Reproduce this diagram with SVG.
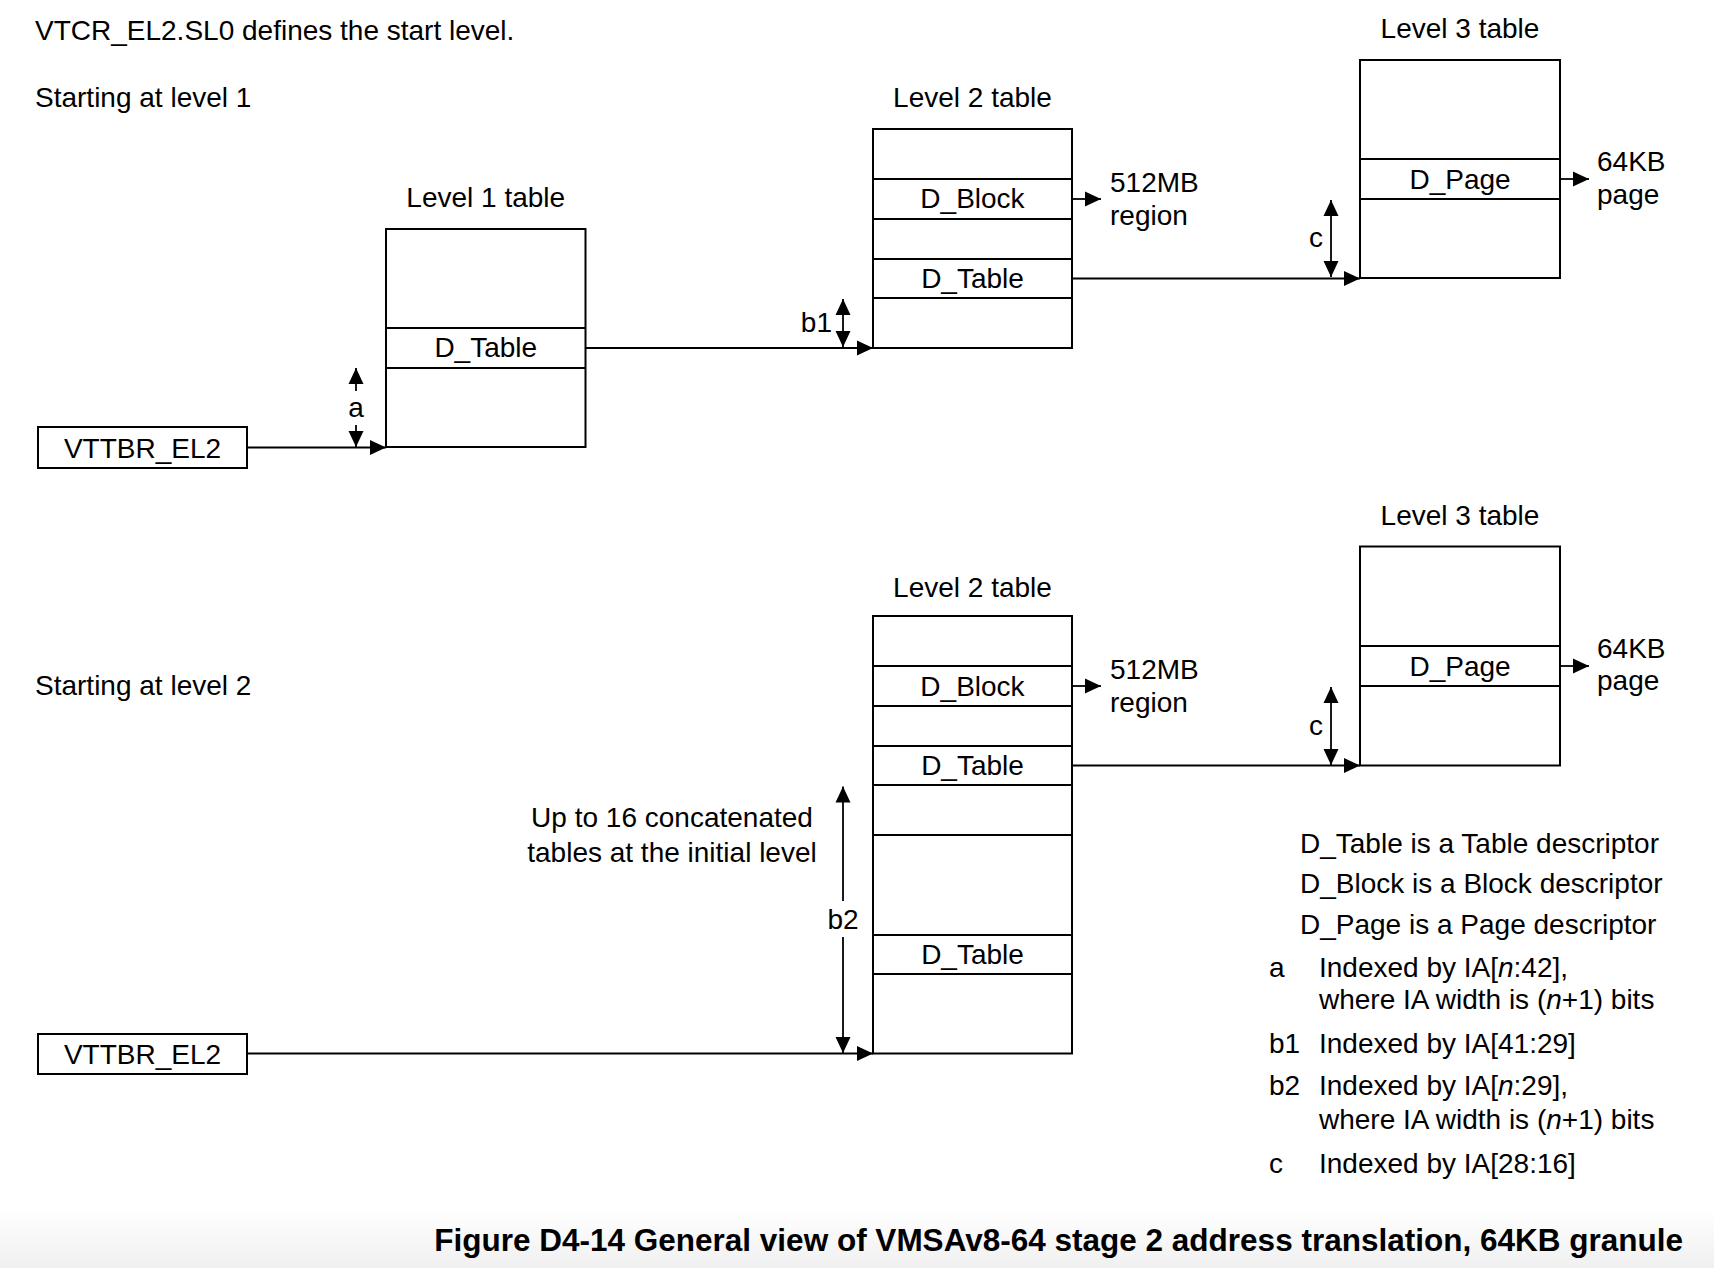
<svg xmlns="http://www.w3.org/2000/svg" width="1714" height="1268" viewBox="0 0 1714 1268">
<style>
text{font-family:"Liberation Sans",Arial,Helvetica,sans-serif;font-size:28px;fill:#000}
.mid{text-anchor:middle}
.end{text-anchor:end}
.tbl{fill:#fff;stroke:#000;stroke-width:2}
.sep{stroke:#000;stroke-width:2;fill:none}
.conn{stroke:#000;stroke-width:1.8;fill:none}
.ar{marker-end:url(#ah)}
.dbl{marker-start:url(#ah);marker-end:url(#ah)}
.cap{font-weight:bold;font-size:31.5px}
</style>
<defs>
<marker id="ah" markerUnits="userSpaceOnUse" markerWidth="16" markerHeight="16" viewBox="0 0 16 15" refX="16" refY="7.5" orient="auto-start-reverse">
<path d="M0,0 L16,7.5 L0,15 z" fill="#000"/>
</marker>
<linearGradient id="bg" x1="0" y1="0" x2="0" y2="1">
<stop offset="0" stop-color="#fff"/>
<stop offset="1" stop-color="#f0f0f0"/>
</linearGradient>
</defs>
<rect x="0" y="0" width="1714" height="1268" fill="#fff"/>
<rect x="0" y="1210" width="1714" height="58" fill="url(#bg)"/>

<g id="headings">
<text x="35" y="40">VTCR_EL2.SL0 defines the start level.</text>
<text x="35" y="107">Starting at level 1</text>
<text x="35" y="695">Starting at level 2</text>
</g>

<!-- Upper: starting at level 1 -->
<g id="vttbr1">
<rect class="tbl" x="38" y="427" width="209" height="41"/>
<text class="mid" x="142.5" y="457.5">VTTBR_EL2</text>
</g>
<g id="l1table">
<text class="mid" x="485.75" y="207">Level 1 table</text>
<rect class="tbl" x="386" y="229" width="199.5" height="218"/>
<line class="sep" x1="386" y1="328" x2="585.5" y2="328"/>
<line class="sep" x1="386" y1="368" x2="585.5" y2="368"/>
<text class="mid" x="485.75" y="357">D_Table</text>
</g>
<g id="l2table_a">
<text class="mid" x="972.5" y="107">Level 2 table</text>
<rect class="tbl" x="873" y="129" width="199" height="219"/>
<line class="sep" x1="873" y1="179" x2="1072" y2="179"/>
<line class="sep" x1="873" y1="219" x2="1072" y2="219"/>
<line class="sep" x1="873" y1="259" x2="1072" y2="259"/>
<line class="sep" x1="873" y1="298" x2="1072" y2="298"/>
<text class="mid" x="972.5" y="208">D_Block</text>
<text class="mid" x="972.5" y="287.5">D_Table</text>
</g>
<g id="region_a">
<text x="1110" y="192">512MB</text>
<text x="1110" y="225">region</text>
</g>
<g id="l3table_a">
<text class="mid" x="1460" y="38">Level 3 table</text>
<rect class="tbl" x="1360" y="60" width="200" height="218"/>
<line class="sep" x1="1360" y1="159" x2="1560" y2="159"/>
<line class="sep" x1="1360" y1="199" x2="1560" y2="199"/>
<text class="mid" x="1460" y="188.5">D_Page</text>
</g>
<g id="page_a">
<text x="1597" y="171">64KB</text>
<text x="1597" y="203.5">page</text>
</g>

<!-- Lower: starting at level 2 -->
<g id="vttbr2">
<rect class="tbl" x="38" y="1034" width="209" height="40"/>
<text class="mid" x="142.5" y="1064">VTTBR_EL2</text>
</g>
<g id="concat_note">
<text class="mid" x="672" y="827">Up to 16 concatenated</text>
<text class="mid" x="672" y="862">tables at the initial level</text>
</g>
<g id="l2table_b">
<text class="mid" x="972.5" y="597">Level 2 table</text>
<rect class="tbl" x="873" y="616" width="199" height="437.5"/>
<line class="sep" x1="873" y1="666" x2="1072" y2="666"/>
<line class="sep" x1="873" y1="706" x2="1072" y2="706"/>
<line class="sep" x1="873" y1="746" x2="1072" y2="746"/>
<line class="sep" x1="873" y1="785" x2="1072" y2="785"/>
<line class="sep" x1="873" y1="835" x2="1072" y2="835"/>
<line class="sep" x1="873" y1="935" x2="1072" y2="935"/>
<line class="sep" x1="873" y1="974" x2="1072" y2="974"/>
<text class="mid" x="972.5" y="695.5">D_Block</text>
<text class="mid" x="972.5" y="775">D_Table</text>
<text class="mid" x="972.5" y="964">D_Table</text>
</g>
<g id="region_b">
<text x="1110" y="678.5">512MB</text>
<text x="1110" y="711.5">region</text>
</g>
<g id="l3table_b">
<text class="mid" x="1460" y="525">Level 3 table</text>
<rect class="tbl" x="1360" y="546.5" width="200" height="219"/>
<line class="sep" x1="1360" y1="646" x2="1560" y2="646"/>
<line class="sep" x1="1360" y1="686" x2="1560" y2="686"/>
<text class="mid" x="1460" y="675.5">D_Page</text>
</g>
<g id="page_b">
<text x="1597" y="658">64KB</text>
<text x="1597" y="690">page</text>
</g>

<g id="connectors">
<line class="conn ar" x1="247" y1="447.5" x2="386" y2="447.5"/>
<line class="conn ar" x1="585.5" y1="348" x2="873" y2="348"/>
<line class="conn ar" x1="1072" y1="199" x2="1101" y2="199"/>
<line class="conn ar" x1="1072" y1="278.5" x2="1360" y2="278.5"/>
<line class="conn ar" x1="1560" y1="179" x2="1589" y2="179"/>
<line class="conn ar" x1="247" y1="1053.5" x2="873" y2="1053.5"/>
<line class="conn ar" x1="1072" y1="686" x2="1101" y2="686"/>
<line class="conn ar" x1="1072" y1="765.5" x2="1360" y2="765.5"/>
<line class="conn ar" x1="1560" y1="666" x2="1589" y2="666"/>
<!-- index span indicators -->
<line class="conn ar" x1="356" y1="391" x2="356" y2="368"/>
<line class="conn ar" x1="356" y1="425" x2="356" y2="447"/>
<line class="conn dbl" x1="843" y1="299" x2="843" y2="347"/>
<line class="conn dbl" x1="1331" y1="200" x2="1331" y2="277"/>
<line class="conn dbl" x1="1331" y1="687" x2="1331" y2="765"/>
<line class="conn ar" x1="843" y1="901" x2="843" y2="786.5"/>
<line class="conn ar" x1="843" y1="937" x2="843" y2="1053"/>
</g>
<g id="span_labels">
<text class="mid" x="356" y="417">a</text>
<text class="end" x="832" y="332">b1</text>
<text class="mid" x="1316" y="247">c</text>
<text class="mid" x="1316" y="735">c</text>
<text class="mid" x="843" y="929">b2</text>
</g>

<g id="legend">
<text x="1300" y="853">D_Table is a Table descriptor</text>
<text x="1300" y="893">D_Block is a Block descriptor</text>
<text x="1300" y="934">D_Page is a Page descriptor</text>
<text x="1269" y="977">a</text>
<text x="1319" y="977">Indexed by IA[<tspan font-style="italic">n</tspan>:42],</text>
<text x="1319" y="1009">where IA width is (<tspan font-style="italic">n</tspan>+1) bits</text>
<text x="1269" y="1053">b1</text>
<text x="1319" y="1053">Indexed by IA[41:29]</text>
<text x="1269" y="1095">b2</text>
<text x="1319" y="1095">Indexed by IA[<tspan font-style="italic">n</tspan>:29],</text>
<text x="1319" y="1129">where IA width is (<tspan font-style="italic">n</tspan>+1) bits</text>
<text x="1269" y="1173">c</text>
<text x="1319" y="1173">Indexed by IA[28:16]</text>
</g>

<g id="caption">
<text class="cap end" x="1683" y="1251">Figure D4-14 General view of VMSAv8-64 stage 2 address translation, 64KB granule</text>
</g>
</svg>
